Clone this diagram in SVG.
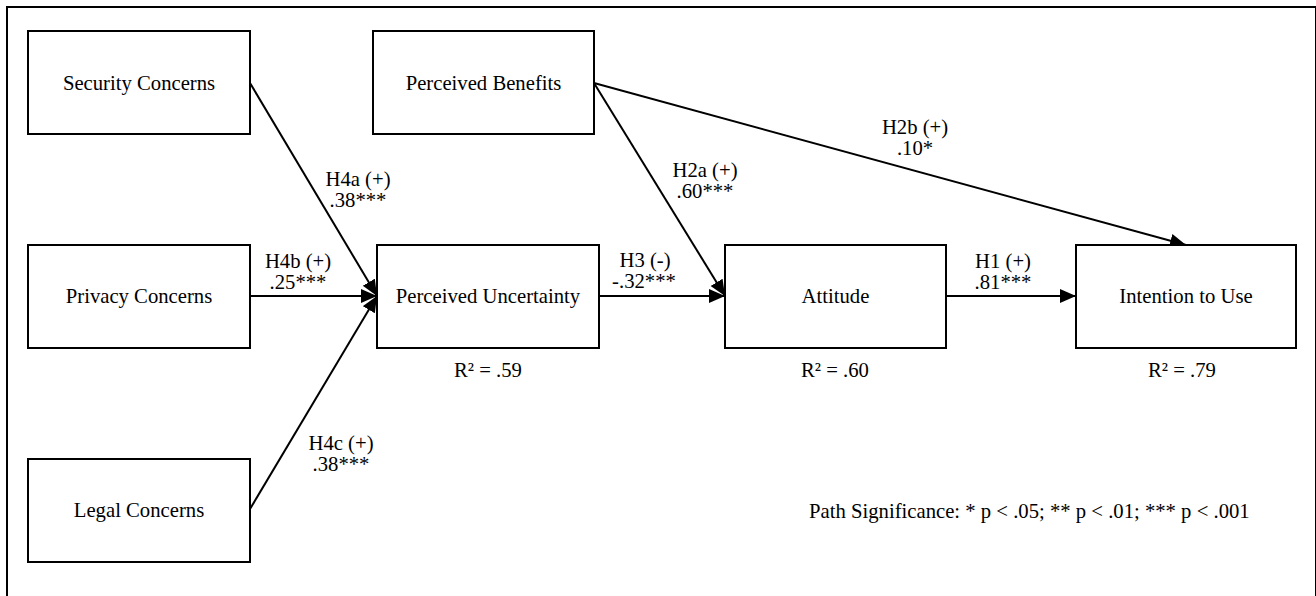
<svg xmlns="http://www.w3.org/2000/svg" width="1316" height="596" viewBox="0 0 1316 596">
<style>
text{font-family:"Liberation Serif","Times New Roman",serif;font-size:20.7px;fill:#000}
.n{text-anchor:middle}
.box{fill:#fff;stroke:#000;stroke-width:2}
.c{stroke:#000;stroke-width:2;fill:none;marker-end:url(#ah)}
</style>
<defs>
<marker id="ah" markerUnits="userSpaceOnUse" markerWidth="17" markerHeight="15" refX="16" refY="7" orient="auto">
<path d="M0,0 L16,7 L0,14 z" fill="#000"/>
</marker>
</defs>
<rect x="0" y="0" width="1316" height="596" fill="#fff"/>
<rect x="7" y="7" width="1309" height="600" fill="none" stroke="#000" stroke-width="2"/>
<g id="connectors">
<line class="c" x1="250" y1="83" x2="377" y2="296"/>
<line class="c" x1="250" y1="296" x2="377" y2="296"/>
<line class="c" x1="250" y1="509" x2="377" y2="296"/>
<line class="c" x1="599" y1="296" x2="725" y2="296"/>
<line class="c" x1="594" y1="83" x2="725" y2="296"/>
<line class="c" x1="946" y1="296" x2="1076" y2="296"/>
<line class="c" x1="594" y1="83" x2="1186" y2="245"/>
</g>
<g id="labels">
<text class="n" x="358" y="186">H4a (+)</text>
<text class="n" x="358" y="207">.38***</text>
<text class="n" x="298" y="268">H4b (+)</text>
<text class="n" x="298" y="289">.25***</text>
<text class="n" x="341" y="450">H4c (+)</text>
<text class="n" x="341" y="471">.38***</text>
<text class="n" x="705" y="177">H2a (+)</text>
<text class="n" x="705" y="198">.60***</text>
<text class="n" x="645" y="267">H3 (-)</text>
<text class="n" x="644" y="288">-.32***</text>
<text class="n" x="1003" y="268">H1 (+)</text>
<text class="n" x="1003" y="289">.81***</text>
<text class="n" x="915" y="134">H2b (+)</text>
<text class="n" x="915" y="155">.10*</text>
<text class="n" x="488" y="377">R² = .59</text>
<text class="n" x="835" y="377">R² = .60</text>
<text class="n" x="1182" y="377">R² = .79</text>
<text x="809" y="518">Path Significance: * p &lt; .05; ** p &lt; .01; *** p &lt; .001</text>
</g>
<g id="security"><rect class="box" x="28" y="31" width="222" height="103"/><text class="n" x="139" y="90">Security Concerns</text></g>
<g id="benefits"><rect class="box" x="373" y="31" width="221" height="103"/><text class="n" x="483.5" y="90">Perceived Benefits</text></g>
<g id="privacy"><rect class="box" x="28" y="245" width="222" height="103"/><text class="n" x="139" y="303">Privacy Concerns</text></g>
<g id="legal"><rect class="box" x="28" y="459" width="222" height="103"/><text class="n" x="139" y="517">Legal Concerns</text></g>
<g id="uncertainty"><rect class="box" x="377" y="245" width="222" height="103"/><text class="n" x="488" y="303">Perceived Uncertainty</text></g>
<g id="attitude"><rect class="box" x="725" y="245" width="221" height="103"/><text class="n" x="835.5" y="303">Attitude</text></g>
<g id="intention"><rect class="box" x="1076" y="245" width="220" height="103"/><text class="n" x="1186" y="303">Intention to Use</text></g>
</svg>
